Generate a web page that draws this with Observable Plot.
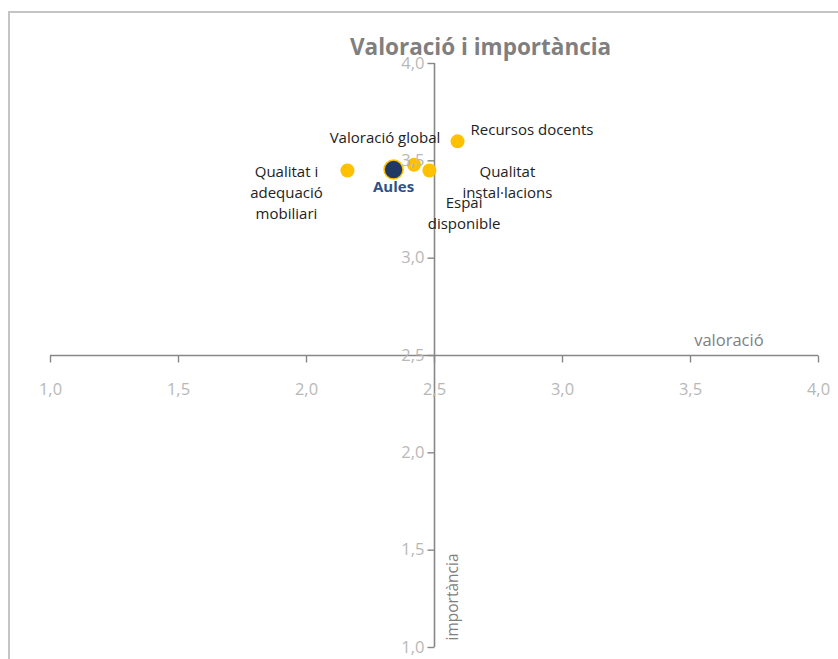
<!DOCTYPE html>
<html>
<head>
<meta charset="utf-8">
<script src="https://cdn.jsdelivr.net/npm/d3@7"></script>
<script src="https://cdn.jsdelivr.net/npm/@observablehq/plot@0.6"></script>
<style>
  html, body { margin: 0; padding: 0; background: #fff; }
  #wrap { position: relative; width: 838px; height: 659px; overflow: hidden; }
  #frame { position: absolute; left: 8px; top: 11px; width: 900px; height: 700px;
           border-left: 2px solid #c4c4c4; border-top: 2px solid #c4c4c4; pointer-events: none; }
  #chart { position: absolute; left: 0; top: 0; }
</style>
</head>
<body>
<div id="wrap"><div id="chart"></div><div id="frame"></div></div>
<script>
// ---- data ----
const items = ["Qualitat i\nadequació\nmobiliari", "Espai\ndisponible", "Valoració global", "Qualitat\ninstal·lacions", "Recursos docents"];
const valoracio = [2.16, 2.35, 2.42, 2.48, 2.59];
const importancia = [3.45, 3.46, 3.48, 3.45, 3.60];
const groupName = "Aules";
const groupValoracio = 2.34;
const groupImportancia = 3.455;
const xTicks = [1.0, 1.5, 2.0, 2.5, 3.0, 3.5, 4.0];
const yTicks = [1.0, 1.5, 2.0, 2.5, 3.0, 3.5, 4.0];
const title = "Valoració i importància";
const xLabel = "valoració";
const yLabel = "importància";

const pts = items.map((name, i) => ({name, x: valoracio[i], y: importancia[i]}));
const group = [{name: groupName, x: groupValoracio, y: groupImportancia}];

// label placement (pixel offsets), layout only
const place = {
  "Qualitat i\nadequació\nmobiliari": {dx: -61, dy: 21, textAnchor: "middle"},
  "Espai\ndisponible": {dx: 68, dy: 43, textAnchor: "middle"},
  "Valoració global": {dx: -29, dy: -28, textAnchor: "middle"},
  "Qualitat\ninstal·lacions": {dx: 78, dy: 10, textAnchor: "middle"},
  "Recursos docents": {dx: 13, dy: -13, textAnchor: "start"}
};

const fmt = d => d.toFixed(1).replace(".", ",");
const font = "'Open Sans', sans-serif";
const axisColor = "#878787";
const tickLabelColor = "#b8b8b8";

const tickDown = {draw(ctx, size) { ctx.moveTo(0, 0); ctx.lineTo(0, 7); }};
const tickLeft = {draw(ctx, size) { ctx.moveTo(0, 0); ctx.lineTo(-7, 0); }};

const labelMarks = pts.map(p => Plot.text([p], {
  x: "x", y: "y", text: "name", dx: place[p.name].dx, dy: place[p.name].dy,
  textAnchor: place[p.name].textAnchor, fill: "#222", fontSize: 15, lineHeight: 1.4
}));

const chart = Plot.plot({
  width: 838,
  height: 659,
  marginLeft: 50,
  marginRight: 20,
  marginTop: 63,
  marginBottom: 12,
  style: {fontFamily: font, background: "transparent", overflow: "visible"},
  x: {domain: [1, 4], axis: null},
  y: {domain: [1, 4], axis: null},
  marks: [
    Plot.ruleY([2.5], {x1: 1, x2: 4, stroke: axisColor, strokeWidth: 1.6}),
    Plot.ruleX([2.5], {y1: 1, y2: 4, stroke: axisColor, strokeWidth: 1.6}),
    Plot.dot(xTicks, {x: d => d, y: 2.5, symbol: tickDown, stroke: axisColor, strokeWidth: 1.4, r: 4}),
    Plot.dot(yTicks, {x: 2.5, y: d => d, symbol: tickLeft, stroke: axisColor, strokeWidth: 1.4, r: 4}),
    Plot.dot(pts, {x: "x", y: "y", r: 7, fill: "#FFC000"}),
    Plot.dot(group, {x: "x", y: "y", r: 9.5, fill: "#203864", stroke: "#FFC000", strokeWidth: 1.5}),
    Plot.text(xTicks, {x: d => d, y: 2.5, dy: 34, text: fmt, fill: tickLabelColor, fontSize: 16.5}),
    Plot.text(yTicks, {x: 2.5, y: d => d, dx: -10, text: fmt, textAnchor: "end", fill: tickLabelColor, fontSize: 16.5}),
    ...labelMarks,
    Plot.text(group, {x: "x", y: "y", text: "name", dy: 18, fill: "#2E5286", fontWeight: "bold", fontSize: 15}),
    Plot.text([title], {x: 2.68, y: 4, dy: -16, text: d => d, fill: "#7f7f7f", fontWeight: "bold", fontSize: 22.5}),
    Plot.text([xLabel], {x: 3.65, y: 2.5, dy: -15, text: d => d, fill: "#7f7f7f", fontSize: 16.5}),
    Plot.text([yLabel], {x: 2.5, y: 1, dx: 19, dy: -7, text: d => d, rotate: -90, textAnchor: "start", fill: "#7f7f7f", fontSize: 15.5})
  ]
});
document.getElementById("chart").appendChild(chart);
</script>
</body>
</html>
